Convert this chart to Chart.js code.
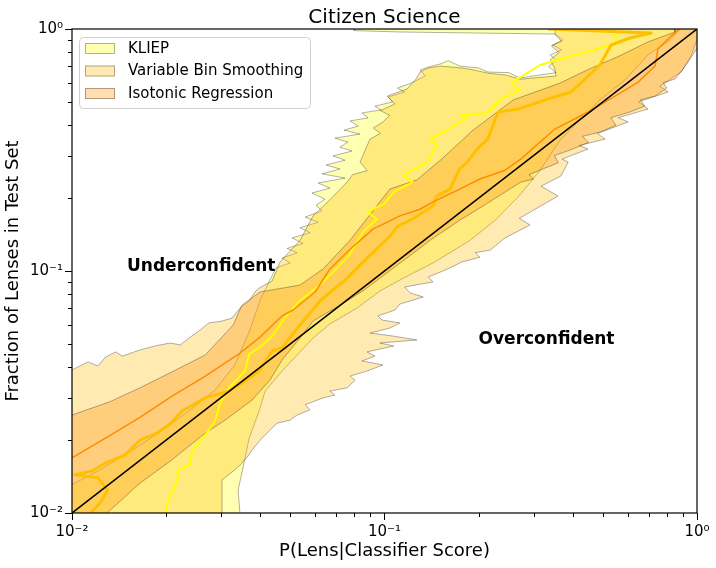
<!DOCTYPE html>
<html>
<head>
<meta charset="utf-8">
<title>Citizen Science</title>
<script src="https://cdn.jsdelivr.net/npm/chart.js@4.4.0/dist/chart.umd.min.js"></script>
<style>
  html, body { margin: 0; padding: 0; background: #fff; }
</style>
</head>
<body>
<canvas id="calib" width="716" height="568"></canvas>
<script>
// values (log-log, both axes 1e-2 .. 1)

// KLIEP band outline (lower-right edge going up, then upper-left edge coming down)
const kliepBandX = [0.008, 0.0347, 0.0340, 0.0358, 0.0369, 0.0397, 0.0415, 0.0470, 0.0591, 0.0669, 0.0817, 0.0967,
  0.115, 0.143, 0.162, 0.188, 0.226, 0.271, 0.315, 0.365, 0.422, 0.489, 0.588, 0.697, 0.820, 0.882, 0.9,
  0.08, 0.08, 0.112, 0.202, 0.351, 0.372, 0.345, 0.368, 0.339, 0.355, 0.335, 0.354, 0.300, 0.271,
  0.250, 0.214, 0.200, 0.174, 0.160, 0.151, 0.140, 0.130, 0.135,
  0.122, 0.110, 0.116, 0.103, 0.106, 0.0932, 0.0975, 0.0847, 0.0886, 0.0776,
  0.0823, 0.0742, 0.0835, 0.0694, 0.0764, 0.0720, 0.0787, 0.0684, 0.0748, 0.0650,
  0.0720, 0.0631, 0.0748, 0.0613, 0.0669, 0.0586, 0.0645, 0.0604, 0.0631, 0.0557,
  0.0613, 0.0537, 0.0578, 0.0506, 0.0549, 0.0488, 0.0525, 0.0470, 0.0499, 0.0450,
  0.0430, 0.0400, 0.0371, 0.0332, 0.0287, 0.0239, 0.0191, 0.0153, 0.0123, 0.01, 0.008, 0.008];
const kliepBandY = [0.008, 0.009, 0.0124, 0.0169, 0.0204, 0.0264, 0.0319, 0.0386, 0.0529, 0.0604, 0.0703, 0.0827,
  0.0935, 0.108, 0.119, 0.134, 0.162, 0.206, 0.261, 0.348, 0.421, 0.509, 0.616, 0.781, 0.900, 1.0, 1.2,
  1.2, 0.985, 0.972, 0.962, 0.953, 0.900, 0.860, 0.820, 0.780, 0.744, 0.700, 0.660, 0.640, 0.627,
  0.660, 0.664, 0.690, 0.703, 0.740, 0.717, 0.700, 0.677, 0.640,
  0.598, 0.570, 0.549, 0.524, 0.499, 0.480, 0.463, 0.450, 0.429, 0.417,
  0.397, 0.382, 0.368, 0.354, 0.341, 0.325, 0.313, 0.299, 0.287, 0.274,
  0.264, 0.252, 0.242, 0.231, 0.220, 0.210, 0.198, 0.187, 0.177, 0.167,
  0.159, 0.151, 0.144, 0.137, 0.130, 0.124, 0.119, 0.113, 0.108, 0.103,
  0.0918, 0.0759, 0.0570, 0.0409, 0.0322, 0.0267, 0.0216, 0.0179, 0.0151, 0.0131, 0.0125, 0.008];

// Variable Bin Smoothing band outline
const vbsBandX = [0.008, 0.0302, 0.0302, 0.0332, 0.0347, 0.0363, 0.0377, 0.0400, 0.0424, 0.0453,
  0.0499, 0.0525, 0.0578, 0.0557, 0.0636, 0.0694, 0.0669, 0.0759, 0.0805, 0.0776,
  0.0879, 0.0989, 0.0847, 0.0932, 0.0879, 0.107, 0.0967, 0.127, 0.106, 0.0899,
  0.104, 0.112, 0.0982, 0.0953, 0.108, 0.112, 0.133, 0.121, 0.116, 0.143,
  0.138, 0.151, 0.162, 0.177, 0.202, 0.195, 0.218, 0.243,
  0.292, 0.270, 0.359, 0.317, 0.367, 0.387, 0.370, 0.448, 0.420, 0.508,
  0.480, 0.602, 0.560, 0.697, 0.650, 0.808, 0.760, 0.889, 0.957, 0.993, 1.1,
  0.36, 0.351, 0.368, 0.342, 0.362, 0.339, 0.350, 0.354, 0.310, 0.271, 0.245,
  0.214, 0.190, 0.177, 0.151, 0.138, 0.130, 0.126,
  0.118, 0.102, 0.108, 0.097, 0.104, 0.0989, 0.092, 0.097, 0.0899, 0.0835, 0.088, 0.079,
  0.0759, 0.0669, 0.0591, 0.0537, 0.0463,
  0.0437, 0.0397, 0.0385, 0.0369, 0.0345, 0.0325, 0.0302, 0.0274, 0.0257, 0.0237,
  0.0222, 0.0206, 0.0184, 0.0165, 0.0145, 0.0138, 0.0128, 0.0121, 0.01125, 0.01, 0.008, 0.008];
const vbsBandY = [0.008, 0.009, 0.0137, 0.0151, 0.0159, 0.0170, 0.0182, 0.0200, 0.0216, 0.0235,
  0.0242, 0.0254, 0.0267, 0.0280, 0.0299, 0.0307, 0.0319, 0.0329, 0.0354, 0.0368,
  0.0386, 0.0409, 0.0425, 0.0445, 0.0463, 0.0490, 0.0504, 0.0519, 0.0539, 0.0554,
  0.0581, 0.0610, 0.0627, 0.0652, 0.0690, 0.0730, 0.0781, 0.0811, 0.0859, 0.0901,
  0.0945, 0.0990, 0.103, 0.109, 0.114, 0.119, 0.122, 0.137,
  0.155, 0.165, 0.204, 0.224, 0.247, 0.282, 0.290, 0.319, 0.330, 0.351,
  0.370, 0.413, 0.430, 0.467, 0.500, 0.549, 0.580, 0.664, 0.773, 0.884, 1.2,
  1.2, 0.953, 0.890, 0.850, 0.800, 0.744, 0.690, 0.639, 0.630, 0.620, 0.645,
  0.657, 0.680, 0.690, 0.703, 0.690, 0.664, 0.620,
  0.565, 0.528, 0.490, 0.460, 0.440, 0.413, 0.390, 0.370, 0.351, 0.282, 0.260, 0.250,
  0.233, 0.197, 0.169, 0.134, 0.109,
  0.0909, 0.0851, 0.0819, 0.0752, 0.0703, 0.0639, 0.0621, 0.0610, 0.0570, 0.0529,
  0.0495, 0.0504, 0.0490, 0.0472, 0.0445, 0.0463, 0.0441, 0.0405, 0.0421, 0.0390, 0.0385, 0.008];

// Isotonic Regression band outline
const isoBandX = [0.008, 0.01185, 0.0164, 0.0209, 0.0267, 0.0309, 0.0377, 0.0430, 0.0470, 0.0537,
  0.0591, 0.0669, 0.0759, 0.0853, 0.0967, 0.121, 0.140, 0.174, 0.214, 0.273,
  0.300, 0.290, 0.326, 0.360, 0.350, 0.392, 0.450, 0.430, 0.489, 0.550,
  0.530, 0.610, 0.680, 0.660, 0.734, 0.800, 0.780, 0.850, 0.900, 0.936, 1.01, 1.1,
  0.85, 0.850, 0.697, 0.555, 0.445, 0.365, 0.258, 0.192, 0.151, 0.127,
  0.104, 0.0776, 0.0636, 0.0537, 0.0400, 0.0350, 0.0328, 0.0267, 0.0209, 0.0165,
  0.0132, 0.01, 0.008, 0.008];
const isoBandY = [0.008, 0.009, 0.0132, 0.0166, 0.0214, 0.0242, 0.0293, 0.0354, 0.0429, 0.0529,
  0.0621, 0.0683, 0.0752, 0.0827, 0.0935, 0.116, 0.134, 0.162, 0.191, 0.233,
  0.240, 0.250, 0.266, 0.280, 0.300, 0.316, 0.340, 0.360, 0.375, 0.400,
  0.430, 0.454, 0.480, 0.510, 0.528, 0.570, 0.600, 0.621, 0.680, 0.730, 0.850, 1.2,
  1.2, 0.972, 0.884, 0.766, 0.677, 0.598, 0.509, 0.382, 0.287, 0.238,
  0.218, 0.134, 0.102, 0.0875, 0.0819, 0.0724, 0.0598, 0.0450, 0.0383, 0.0329,
  0.0288, 0.0254, 0.0250, 0.008];

// median curves
const kliepMedX = [0.0200, 0.0201, 0.0217, 0.0220, 0.0239, 0.0242, 0.0267, 0.0287, 0.0298, 0.0318,
  0.0358, 0.0369, 0.0397, 0.0437, 0.0480, 0.0529, 0.0626, 0.0694, 0.0770, 0.0853,
  0.0946, 0.088, 0.100, 0.107, 0.123, 0.115, 0.137, 0.147, 0.140, 0.166,
  0.184, 0.175, 0.213, 0.234, 0.271, 0.255, 0.315, 0.384, 0.465, 0.555, 0.539];
const kliepMedY = [0.009, 0.0108, 0.0136, 0.0151, 0.0159, 0.0180, 0.0210, 0.0240, 0.0285, 0.0329,
  0.0386, 0.0454, 0.0481, 0.0539, 0.0639, 0.0744, 0.0884, 0.101, 0.116, 0.145,
  0.164, 0.175, 0.190, 0.212, 0.233, 0.250, 0.282, 0.329, 0.350, 0.397,
  0.433, 0.440, 0.450, 0.509, 0.560, 0.600, 0.710, 0.766, 0.819, 0.875, 1.0];

const vbsMedX = [0.0106, 0.0123, 0.0130, 0.0121, 0.0102, 0.0116, 0.0128, 0.0148, 0.0165, 0.0187, 0.0206, 0.0225,
  0.0267, 0.0318, 0.0358, 0.0397, 0.0437, 0.0470, 0.0537, 0.0626, 0.0748, 0.0879, 0.104, 0.110, 0.123, 0.143,
  0.147, 0.162, 0.174, 0.184, 0.198, 0.214, 0.231, 0.268, 0.326, 0.395, 0.438, 0.489, 0.531, 0.610, 0.713,
  0.489, 0.334];
const vbsMedY = [0.009, 0.0110, 0.0124, 0.0140, 0.0144, 0.0149, 0.0161, 0.0174, 0.0200, 0.0214, 0.0233, 0.0264,
  0.0299, 0.0319, 0.0351, 0.0386, 0.0467, 0.0481, 0.0598, 0.0759, 0.0918, 0.113, 0.139, 0.153, 0.164, 0.186,
  0.204, 0.218, 0.264, 0.282, 0.319, 0.351, 0.454, 0.467, 0.509, 0.549, 0.621, 0.710, 0.859, 0.918, 0.962,
  0.981, 1.0];

const isoMedX = [0.009, 0.01, 0.0128, 0.0164, 0.0209, 0.0267, 0.0342, 0.0397, 0.0470, 0.0510, 0.0600, 0.0669,
  0.0776, 0.0919, 0.112, 0.130, 0.143, 0.174, 0.202, 0.243, 0.273, 0.351, 0.448, 0.547, 0.648, 0.734, 0.750,
  0.826, 0.882];
const isoMedY = [0.0164, 0.0169, 0.0204, 0.0247, 0.0304, 0.0368, 0.0454, 0.0529, 0.0652, 0.0690, 0.0819, 0.102,
  0.123, 0.149, 0.169, 0.180, 0.193, 0.218, 0.240, 0.261, 0.290, 0.386, 0.454, 0.528, 0.603, 0.703, 0.827,
  0.935, 1.0];

// perfect calibration
const diagX = [0.01, 1];
const diagY = [0.01, 1];

const methodNames = ['KLIEP', 'Variable Bin Smoothing', 'Isotonic Regression'];
const tickValues = [0.01, 0.1, 1];
const tickLabels = ['10\u207B\u00B2', '10\u207B\u00B9', '10\u2070'];
const minorTickValues = [0.02, 0.03, 0.04, 0.05, 0.06, 0.07, 0.08, 0.09, 0.2, 0.3, 0.4, 0.5, 0.6, 0.7, 0.8, 0.9];

const pts = (xs, ys) => xs.map((x, i) => ({x: x, y: ys[i]}));

const bandFill = ['rgba(255,255,0,0.3)', 'rgba(255,185,0,0.3)', 'rgba(255,140,0,0.3)'];
const bandEdge = 'rgba(0,0,0,0.3)';

function band(i, xs, ys, order) {
  return {
    label: methodNames[i],
    data: pts(xs, ys),
    fill: 'shape',
    backgroundColor: bandFill[i],
    borderColor: bandEdge,
    borderWidth: 1,
    pointRadius: 0,
    order: order
  };
}
function medLine(xs, ys, color, width, order) {
  return {
    data: pts(xs, ys),
    fill: false,
    borderColor: color,
    borderWidth: width,
    borderJoinStyle: 'round',
    pointRadius: 0,
    order: order
  };
}

// text, legend, frame, minor ticks
const extras = {
  id: 'extras',
  afterDatasetsDraw(chart) {
    const {ctx, chartArea: a, scales: {x, y}} = chart;
    ctx.save();
    ctx.fillStyle = '#000';
    ctx.textAlign = 'left';
    ctx.textBaseline = 'alphabetic';
    ctx.font = "bold 17px 'DejaVu Sans'";
    ctx.fillText('Underconfident', x.getPixelForValue(0.015), y.getPixelForValue(0.1));
    ctx.fillText('Overconfident', x.getPixelForValue(0.2), y.getPixelForValue(0.05));

    // minor ticks
    ctx.strokeStyle = '#000';
    ctx.lineWidth = 1;
    minorTickValues.forEach(v => {
      const px = Math.round(x.getPixelForValue(v)) + 0.5;
      ctx.beginPath(); ctx.moveTo(px, a.bottom); ctx.lineTo(px, a.bottom + 4); ctx.stroke();
      const py = Math.round(y.getPixelForValue(v)) + 0.5;
      ctx.beginPath(); ctx.moveTo(a.left, py); ctx.lineTo(a.left - 4, py); ctx.stroke();
    });
    // frame
    ctx.lineWidth = 1.2;
    ctx.strokeRect(a.left, a.top, a.right - a.left, a.bottom - a.top);

    // legend
    const lx = 79, ly = 37, lw = 231, lh = 71;
    ctx.beginPath();
    ctx.roundRect(lx + 0.5, ly + 0.5, lw, lh, 4);
    ctx.fillStyle = 'rgba(255,255,255,0.8)';
    ctx.fill();
    ctx.strokeStyle = '#d0d0d0';
    ctx.lineWidth = 1;
    ctx.stroke();
    ctx.font = "15px 'DejaVu Sans'";
    ctx.textBaseline = 'middle';
    methodNames.forEach((name, i) => {
      const ry = ly + 6 + i * 22.5;
      ctx.fillStyle = '#fff';
      ctx.fillRect(85, ry, 30, 11);
      ctx.fillStyle = bandFill[i];
      ctx.fillRect(85, ry, 30, 11);
      ctx.strokeStyle = bandEdge;
      ctx.strokeRect(85.5, ry + 0.5, 29, 10);
      ctx.fillStyle = '#000';
      ctx.fillText(name, 128, ry + 6);
    });

    // title
    ctx.font = "20px 'DejaVu Sans'";
    ctx.textAlign = 'center';
    ctx.textBaseline = 'alphabetic';
    ctx.fillText('Citizen Science', (a.left + a.right) / 2, 23);
    ctx.restore();
  }
};

Chart.defaults.font.family = "'DejaVu Sans', sans-serif";
Chart.defaults.color = '#000';

const tickCallback = v => {
  const k = tickValues.indexOf(v);
  return k >= 0 ? tickLabels[k] : '';
};

new Chart(document.getElementById('calib'), {
  type: 'line',
  data: {
    datasets: [
      medLine(diagX, diagY, '#000000', 1.5, 0),
      medLine(isoMedX, isoMedY, '#ff8c00', 1.5, 1),
      medLine(vbsMedX, vbsMedY, '#ffc000', 3, 2),
      medLine(kliepMedX, kliepMedY, '#ffff00', 2, 3),
      band(2, isoBandX, isoBandY, 4),
      band(1, vbsBandX, vbsBandY, 5),
      band(0, kliepBandX, kliepBandY, 6)
    ]
  },
  options: {
    responsive: false,
    animation: false,
    devicePixelRatio: 1,
    layout: { padding: { left: 0, right: 19, top: 29, bottom: 0 } },
    plugins: { legend: { display: false }, tooltip: { enabled: false } },
    scales: {
      x: {
        type: 'logarithmic',
        min: 0.01,
        max: 1,
        afterFit: s => { s.height = 55; },
        afterBuildTicks: s => { s.ticks = tickValues.map(v => ({value: v, major: true})); },
        ticks: { font: { size: 15 }, padding: 3, maxRotation: 0, autoSkip: false, callback: tickCallback },
        grid: { drawOnChartArea: false, drawTicks: true, tickLength: 7, tickColor: '#000', tickWidth: 1 },
        border: { display: false },
        title: { display: true, text: 'P(Lens|Classifier Score)', font: { size: 18 }, padding: { top: 0, bottom: 6 } }
      },
      y: {
        type: 'logarithmic',
        min: 0.01,
        max: 1,
        afterFit: s => { s.width = 72; },
        afterBuildTicks: s => { s.ticks = tickValues.map(v => ({value: v, major: true})); },
        ticks: { font: { size: 15 }, padding: 2, autoSkip: false, callback: tickCallback },
        grid: { drawOnChartArea: false, drawTicks: true, tickLength: 7, tickColor: '#000', tickWidth: 1 },
        border: { display: false },
        title: { display: true, text: 'Fraction of Lenses in Test Set', font: { size: 18 }, padding: { top: 3, bottom: 0 } }
      }
    }
  },
  plugins: [extras]
});
</script>
</body>
</html>
